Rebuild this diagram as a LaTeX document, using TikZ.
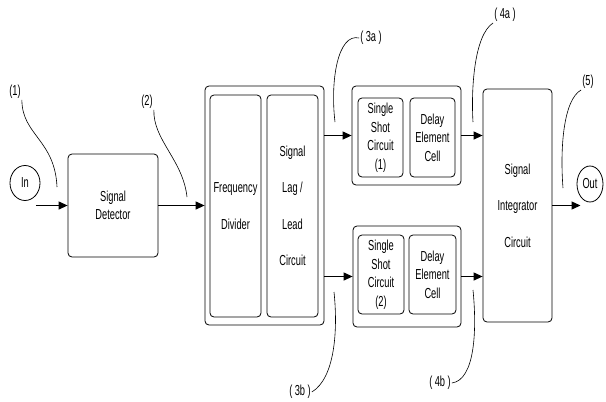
\documentclass[tikz,border=0pt]{standalone}
\usepackage{fontspec}
\setmainfont{Liberation Sans}[FakeStretch=0.64]
\usetikzlibrary{arrows.meta,shapes.geometric}

\begin{document}
\begin{tikzpicture}[x=1pt,y=-1pt,
    blk/.style={draw,rounded corners=4pt,line width=0.8pt,align=center,inner sep=0pt},
    wide/.style={font=\fontsize{14.5}{36.5}\selectfont},
    tight/.style={font=\fontsize{14.5}{18.5}\selectfont},
    port/.style={ellipse,draw,line width=0.8pt,inner sep=0pt,font=\fontsize{14.5}{16}\selectfont},
    arr/.style={-{Triangle[length=9pt,width=8pt]},line width=1.2pt},
    lbl/.style={inner sep=1pt,font=\fontsize{14.5}{16}\selectfont},
    tag/.style={line width=0.6pt}]
            \useasboundingbox (0,0) rectangle (606,402);
            % ports
            \node (in) at (25,183) [port,minimum width=30pt,minimum height=35pt] {In};
            \node (out) at (590,184) [port,minimum width=26pt,minimum height=36pt] {Out};
            % blocks
            \node (det) at (113,205.5) [blk,tight,minimum width=90pt,minimum height=103pt] {Signal\\Detector};
            \node (fdl) at (264.5,205.5) [blk,minimum width=119pt,minimum height=239pt] {};
            \node (fd) at (235.5,206) [blk,wide,minimum width=51pt,minimum height=222pt] {Frequency\\Divider};
            \node (lag) at (292.5,206) [blk,wide,minimum width=51pt,minimum height=222pt] {Signal\\Lag /\\Lead\\Circuit};
            \node (grpa) at (406.5,135.5) [blk,minimum width=109pt,minimum height=99pt] {};
            \node (ssa) at (380.5,137.5) [blk,tight,minimum width=45pt,minimum height=79pt] {Single\\Shot\\Circuit\\(1)};
            \node (dea) at (432.5,137.5) [blk,tight,minimum width=45pt,minimum height=79pt] {Delay\\Element\\Cell};
            \node (grpb) at (407,276.5) [blk,minimum width=108pt,minimum height=101pt] {};
            \node (ssb) at (381,274.5) [blk,tight,minimum width=46pt,minimum height=79pt] {Single\\Shot\\Circuit\\(2)};
            \node (deb) at (432.5,274.5) [blk,tight,minimum width=47pt,minimum height=79pt] {Delay\\Element\\Cell};
            \node (integ) at (517.5,205.5) [blk,wide,minimum width=69pt,minimum height=233pt] {Signal\\Integrator\\Circuit};
            % signal path
            \draw[arr] (in.south east |- det.west) -- (det.west);
            \draw[arr] (det.east) -- (fdl.west);
            \draw[arr] (fdl.east |- grpa.west) -- (grpa.west);
            \draw[arr] (fdl.east |- grpb.west) -- (grpb.west);
            \draw[arr] (grpa.east) -- (integ.west |- grpa.east);
            \draw[arr] (grpb.east) -- (integ.west |- grpb.east);
            \draw[arr] (integ.east) -- (out.south west |- integ.east);
            % test points
            \node (l1) at (15,92) [lbl] {(1)};
            \node (l2) at (147,102) [lbl] {(2)};
            \node (l3a) at (371,38) [lbl] {(\,3a\,)};
            \node (l3b) at (300,392) [lbl] {(\,3b\,)};
            \node (l4a) at (505,15) [lbl] {(\,4a\,)};
            \node (l4b) at (440,383) [lbl] {(\,4b\,)};
            \node (l5) at (588,82) [lbl] {(5)};
            \coordinate (t1) at (57,187);
            \coordinate (t2) at (187,197);
            \coordinate (t3a) at (335,122);
            \coordinate (t3b) at (334,292);
            \coordinate (t4a) at (473,122);
            \coordinate (t4b) at (473,290);
            \coordinate (t5) at (563,188);
            \draw[tag] (l1.south east) .. controls (22,135) and (55,140) .. (t1);
            \draw[tag] (l2.south east) .. controls (153,140) and (183,160) .. (t2);
            \draw[tag] (l3a.west) .. controls (338,33) and (330,80) .. (t3a);
            \draw[tag] (l3b.east) .. controls (335,378) and (338,330) .. (t3b);
            \draw[tag] (l4a.south west) .. controls (474,35) and (471,90) .. (t4a);
            \draw[tag] (l4b.east) .. controls (475,380) and (477,330) .. (t4b);
            \draw[tag] (l5.south west) .. controls (563,100) and (560,150) .. (t5);
        \end{tikzpicture}
\end{document}
